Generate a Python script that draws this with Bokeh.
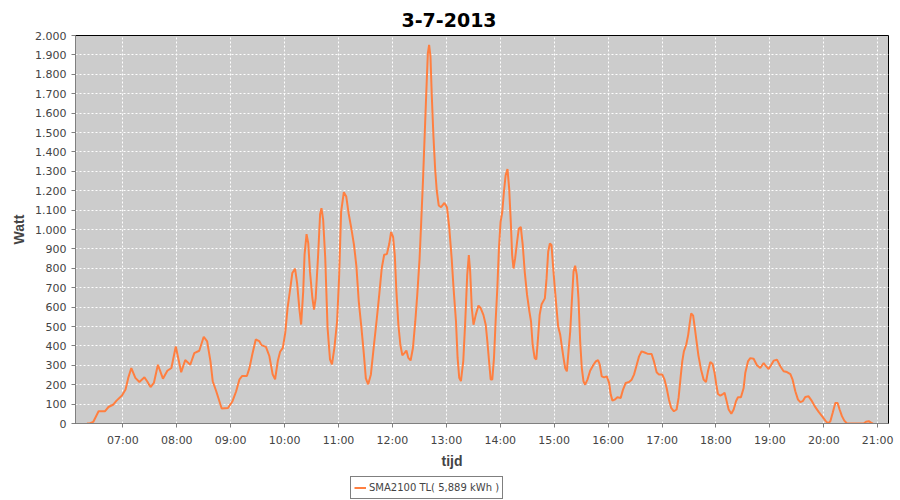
from bokeh.plotting import figure
from bokeh.layouts import column
from bokeh.models import Legend, LegendItem, Title, Range1d, FixedTicker, ColumnDataSource
from bokeh.embed import file_html
from bokeh.resources import INLINE

title_text = "3-7-2013"
series_name = "SMA2100 TL( 5,889 kWh )"
x_label = "tijd"
y_label = "Watt"

# minutes since midnight
minutes = [
    380, 383, 387, 393, 400, 404, 409.5, 413, 419, 423, 426, 429.4, 433.9, 438.4, 444, 447,
    450.8, 454.5, 459, 464.6, 469.5, 474, 478.9, 484.9, 489.4, 495, 499.5, 505, 510, 513.8,
    517.5, 520, 523.9, 530, 537,
    542, 546, 549.8, 552.8, 558, 561, 564, 567.9, 571.7, 574.3, 579.2, 583, 586.7, 589.4,
    592.4, 595, 598, 600.7, 603.3, 606.4, 608.6, 611.6, 613.9, 616.5, 618.4, 620.7, 622.2,
    624.4, 626.3, 628.2, 630.9, 632.7, 634.6, 637.3, 639.5, 641, 642.9, 645.2, 647.8, 650.5,
    652.7, 655.4, 658.4, 660.6, 662.9, 665.9, 668.6, 671.2, 674.2, 677.2, 679.9, 682.5,
    685.5, 688.2, 690.4, 693, 696, 699.5, 702.5, 705.5, 708.1, 710.8, 713.8, 716.4, 718.5,
    720.7, 722.6, 724.4, 726.6, 728.8, 731, 733.6, 735.5, 737.7, 740.2, 742.8, 745.4, 747.6,
    750.2, 752, 753.9, 755.7, 757.5, 759.4, 760.8, 762.3, 763.8, 765.6, 767.5, 769.3, 771.5,
    774.1, 777.8, 780.7, 783.3, 785.9, 788, 790.7, 792.5, 794.3, 796.2, 798.8, 801, 803.2,
    805, 806.5, 808.3, 810.2, 812.7, 815.7, 818.3, 821.2, 823.8, 825.6, 827.5, 829.3, 831.1,
    833, 834.8, 836.7, 838.5, 840.3, 842.2, 844, 845.9, 848, 849.9, 851.7, 853.2, 854.7,
    856.5, 858.7, 860.6, 862.8, 865, 867.2, 869.8, 872.4, 874.2, 876, 878.2, 880.1, 882,
    883.8, 886, 889.6, 891.5, 893.3, 895.2, 897, 898.9,
    900.7, 902.6, 904.4, 906.7, 908.5, 910.4, 912.2, 914.1, 915.9, 917.8, 919.6, 921.5,
    923.3, 925.2, 927, 928.9, 930.7, 932.6, 934.4, 937, 940, 943.7, 946.3, 948.8, 950.7,
    952.9, 955.5, 958.5, 961.1, 962.9, 964.8, 967.3, 970.3, 974, 976.6, 979.6, 983.3, 986.2,
    988.8, 991.4, 994.4, 997.3, 1000.6, 1003.6, 1008.4, 1011, 1014, 1016.6, 1020.3, 1022.8,
    1025.1, 1027.7, 1030.2, 1033.2, 1036.2, 1038.4, 1040.6, 1042.5, 1044.3, 1046.9, 1049.1,
    1050.6, 1052.4, 1054.6, 1056.5, 1058.4, 1060.5, 1063.3, 1066.3, 1068.9, 1071.1, 1073.7,
    1076.3, 1078.5, 1080.4, 1082.2, 1084.8, 1087.8, 1089.6, 1091.5, 1094.1, 1097.1, 1099.7,
    1102.3, 1104.5, 1107.8, 1110.8, 1112.6, 1115.6, 1118.2, 1121.9, 1125.6, 1129.3, 1133.1,
    1134.9, 1138.6, 1141.6, 1144.2, 1147.9, 1151.6, 1155.3, 1159, 1162.8, 1165.3, 1168.3,
    1171.3, 1173.9, 1176.5, 1179.4, 1183.1, 1186.8, 1190.6, 1194.3, 1198, 1201.7, 1204.7,
    1207.3, 1209.9, 1212.8, 1215.4, 1217.6, 1220.2, 1222.8, 1225.8, 1231.4, 1238.8, 1244.4,
    1247, 1250, 1252.9, 1254.7,
]

watts = [
    0, 0, 8, 63, 63, 85, 98, 118, 144, 175, 235, 286, 235, 214, 238, 218,
    188, 209, 303, 231, 272, 286, 397, 264, 327, 303, 363, 375, 447, 423,
    320, 218, 166, 77, 80,
    115, 165, 228, 245, 245, 288, 356, 433, 425, 404, 395, 348, 253, 228,
    322, 370, 390, 467, 596, 699, 776, 798, 724, 587, 510, 682, 870,
    976, 930, 784, 647, 587, 647, 870, 1079, 1110, 1050, 853, 493, 330,
    305, 390, 527, 750, 1092, 1192, 1170, 1084, 1007, 921, 810, 630,
    493, 356, 233, 202, 253, 408, 536, 673, 801, 870, 873, 925, 987,
    962, 868, 680, 509, 406, 352, 364, 376, 338, 325, 389, 526, 663,
    851, 1038, 1243, 1465, 1687, 1909, 1952, 1892, 1687, 1482, 1312, 1201, 1124,
    1115, 1137, 1115, 1004, 851, 697, 526, 338, 236, 219, 321, 526, 765,
    868, 782, 594, 509, 560, 608, 594, 560, 509, 424, 321, 227, 227,
    338, 526, 697, 902, 1038, 1090, 1192, 1278, 1312, 1209, 1038, 868, 799,
    851, 936, 1004, 1013, 919, 782, 663, 577, 526, 406, 338, 330, 441,
    560, 615, 645, 748, 885, 928, 920, 800,
    697, 594, 500, 457, 397, 337, 286, 269, 372, 474, 628, 783,
    813, 765, 645, 423, 286, 217, 200, 226, 272, 303, 320, 327, 303,
    243, 238, 243, 209, 149, 118, 123, 135, 132, 175, 209, 214, 226,
    252, 295, 346, 372, 366, 360, 358, 320, 264, 252, 252, 226,
    183, 123, 80, 63, 72, 132, 235, 320, 372, 406, 457,
    509, 568, 556, 491, 423, 350, 280, 226, 214, 269, 317,
    307, 260, 200, 152, 144, 152, 158, 123, 72, 50, 72,
    115, 135, 135, 183, 260, 320, 337, 334, 300, 286, 312,
    300, 281, 303, 324, 329, 295, 269, 265, 255, 226, 166,
    123, 110, 115, 137, 140, 115, 84, 60, 38, 15, 0,
    12, 55, 106, 106, 72, 38, 15, 0, 0, 0, 0,
    9, 12, 3, 0,
]

x_ticks = [420, 480, 540, 600, 660, 720, 780, 840, 900, 960, 1020, 1080, 1140, 1200, 1260]
x_tick_labels = ["07:00", "08:00", "09:00", "10:00", "11:00", "12:00", "13:00", "14:00",
                 "15:00", "16:00", "17:00", "18:00", "19:00", "20:00", "21:00"]
y_ticks = [0, 100, 200, 300, 400, 500, 600, 700, 800, 900, 1000, 1100, 1200, 1300, 1400,
           1500, 1600, 1700, 1800, 1900, 2000]
y_tick_labels = ["0", "100", "200", "300", "400", "500", "600", "700", "800", "900",
                 "1.000", "1.100", "1.200", "1.300", "1.400", "1.500", "1.600", "1.700",
                 "1.800", "1.900", "2.000"]

LINE = "#ff7f40"
TICK_FONT = "DejaVu Sans"

src = ColumnDataSource(data=dict(t=minutes, w=watts))

p = figure(width=900, height=470, output_backend="svg", toolbar_location=None,
           x_range=Range1d(367.3, 1272), y_range=Range1d(0, 2000),
           min_border_left=75, min_border_right=12, min_border_top=35, min_border_bottom=44)
p.background_fill_color = "#cccccc"
p.border_fill_color = "white"
p.outline_line_color = "black"
p.outline_line_width = 1

r = p.line("t", "w", source=src, line_color=LINE, line_width=2)

# title
p.title.text = title_text
p.title.align = "left"
p.title.offset = 326
p.title.standoff = 17
p.title.text_line_height = 0.8
p.title.text_font = "DejaVu Sans"
p.title.text_font_size = "19px"
p.title.text_font_style = "bold"
p.title.text_color = "black"

# axes
for ax in (p.xaxis[0], p.yaxis[0]):
    ax.axis_line_color = "#808080"
    ax.major_tick_line_color = "#808080"
    ax.major_tick_in = 0
    ax.major_tick_out = 4
    ax.minor_tick_line_color = None
    ax.major_label_text_font = TICK_FONT
    ax.major_label_text_font_size = "11px"
    ax.major_label_text_color = "#444444"

p.xaxis.ticker = FixedTicker(ticks=x_ticks)
p.xaxis.major_label_overrides = {t: l for t, l in zip(x_ticks, x_tick_labels)}
p.xaxis.major_label_standoff = 6

p.yaxis.ticker = FixedTicker(ticks=y_ticks)
p.yaxis.major_label_overrides = {t: l for t, l in zip(y_ticks, y_tick_labels)}
p.yaxis.major_label_standoff = 5
p.yaxis.axis_label = y_label
p.yaxis.axis_label_text_font = "Liberation Sans"
p.yaxis.axis_label_text_font_size = "14px"
p.yaxis.axis_label_text_font_style = "bold"
p.yaxis.axis_label_text_color = "#444444"
p.yaxis.axis_label_standoff = 5

# grid
for g in (p.xgrid[0], p.ygrid[0]):
    g.grid_line_color = "white"
    g.grid_line_dash = "2 2"
    g.grid_line_width = 1

# x axis label as a below title
xt = Title(text=x_label, align="left", offset=366, standoff=3,
           text_font="Liberation Sans", text_font_size="14px", text_font_style="bold",
           text_color="#444444")
p.add_layout(xt, "below")

# legend strip below the chart
lf = figure(width=900, height=30, output_backend="svg", toolbar_location=None,
            x_range=Range1d(0, 1), y_range=Range1d(0, 1),
            x_axis_type=None, y_axis_type=None,
            min_border=0, min_border_left=0, min_border_right=0,
            min_border_top=0, min_border_bottom=0)
lf.outline_line_color = None
lf.background_fill_color = "white"
lf.border_fill_color = "white"
lf.grid.visible = False
lr = lf.line("t", "w", source=src, line_color=LINE, line_width=2)

legend = Legend(items=[LegendItem(label=series_name, renderers=[lr])],
                location=(275, 1), orientation="horizontal",
                border_line_color="black", border_line_width=1,
                background_fill_color="white", background_fill_alpha=1,
                padding=3, margin=0, spacing=0,
                glyph_width=12, glyph_height=15, label_standoff=3,
                label_height=15,
                label_text_font=TICK_FONT, label_text_font_size="10px",
                label_text_color="#444444")
lf.add_layout(legend, "center")

layout = column(p, lf, spacing=0)
open("out.html", "w").write(file_html(layout, INLINE))
